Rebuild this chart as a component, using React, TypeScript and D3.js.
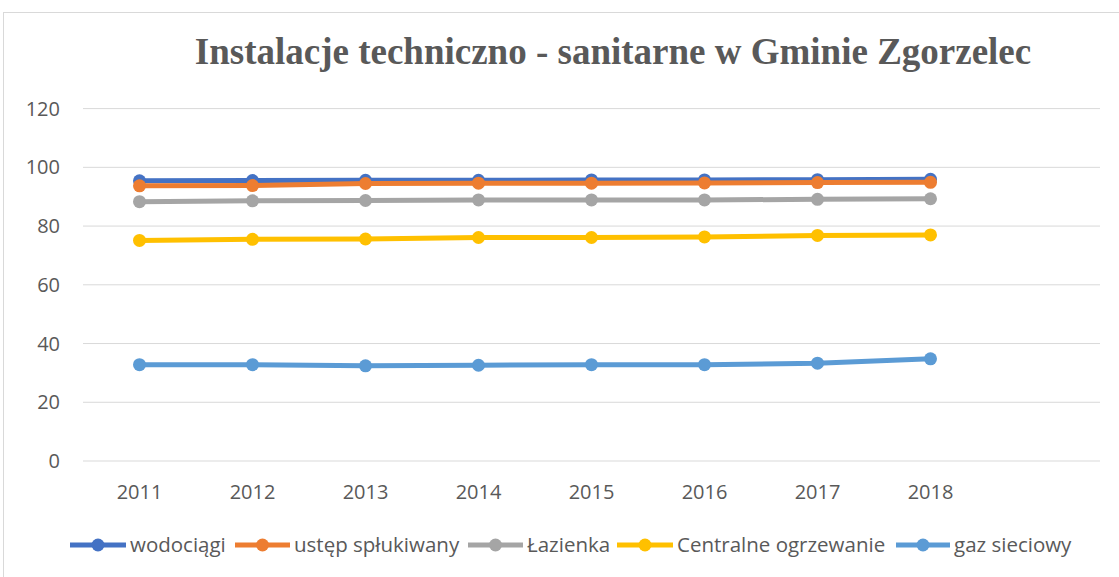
import React from "react";
import * as d3 from "d3";

const years = ["2011", "2012", "2013", "2014", "2015", "2016", "2017", "2018"];
const slots = [...years, ""];
const yTicks = [0, 20, 40, 60, 80, 100, 120];

const wodociagi = [95.4, 95.5, 95.6, 95.6, 95.7, 95.7, 95.8, 95.9];
const ustep = [93.7, 93.8, 94.5, 94.6, 94.6, 94.7, 94.8, 94.9];
const lazienka = [88.3, 88.6, 88.7, 88.9, 88.9, 88.9, 89.1, 89.3];
const centralne = [75.1, 75.5, 75.6, 76.1, 76.1, 76.3, 76.8, 77.0];
const gaz = [32.8, 32.8, 32.4, 32.6, 32.8, 32.8, 33.3, 34.8];

const seriesNames = ["wodociągi", "ustęp spłukiwany", "Łazienka", "Centralne ogrzewanie", "gaz sieciowy"];
const seriesColors = ["#4472C4", "#ED7D31", "#A5A5A5", "#FFC000", "#5B9BD5"];
const seriesData = [wodociagi, ustep, lazienka, centralne, gaz];

const W = 1119;
const H = 577;
const FONT = "'Open Sans', Roboto, sans-serif";

export default function App() {
  const x = d3.scaleBand<string>().domain(slots).range([83, 1100]);
  const y = d3.scaleLinear().domain([0, 120]).range([461, 108.6]);
  const line = d3
    .line<number>()
    .x((_, i) => (x(years[i]) as number) + x.bandwidth() / 2)
    .y((d) => y(d));

  const legendLineX = [70, 235, 468, 617, 896];
  const legendTextX = [130, 294, 527, 677, 954];
  const legendY = 545;

  return (
    <svg
      width={W}
      height={H}
      style={{ position: "absolute", left: 0, top: 0, background: "#fff" }}
    >
      <rect x={0} y={0} width={W} height={H} fill="#fff" />
      <rect x={3.5} y={12.5} width={W + 20} height={H + 20} fill="none" stroke="#D9D9D9" strokeWidth={1} />
      <text
        x={613}
        y={64}
        textAnchor="middle"
        fontFamily="'Liberation Serif', 'Times New Roman', serif"
        fontWeight="bold"
        fontSize={37}
        fill="#595959"
      >
        Instalacje techniczno - sanitarne w Gminie Zgorzelec
      </text>
      {yTicks.map((t) => (
        <g key={t}>
          <line x1={83} x2={1100} y1={y(t)} y2={y(t)} stroke="#D9D9D9" strokeWidth={1} />
          <text
            x={60}
            y={y(t)}
            dy="0.35em"
            textAnchor="end"
            fontFamily={FONT}
            fontSize={20}
            fill="#595959"
          >
            {t}
          </text>
        </g>
      ))}
      {years.map((yr) => (
        <text
          key={yr}
          x={(x(yr) as number) + x.bandwidth() / 2}
          y={492}
          dy="0.35em"
          textAnchor="middle"
          fontFamily={FONT}
          fontSize={20}
          fill="#595959"
        >
          {yr}
        </text>
      ))}
      {seriesData.map((data, si) => (
        <g key={si}>
          <path d={line(data) || ""} fill="none" stroke={seriesColors[si]} strokeWidth={5} strokeLinejoin="round" />
          {data.map((v, i) => (
            <circle
              key={i}
              cx={(x(years[i]) as number) + x.bandwidth() / 2}
              cy={y(v)}
              r={6.5}
              fill={seriesColors[si]}
            />
          ))}
        </g>
      ))}
      {seriesNames.map((name, i) => (
        <g key={name}>
          <line
            x1={legendLineX[i]}
            x2={legendTextX[i] - 4}
            y1={legendY}
            y2={legendY}
            stroke={seriesColors[i]}
            strokeWidth={5}
          />
          <circle cx={(legendLineX[i] + legendTextX[i] - 4) / 2} cy={legendY} r={6.5} fill={seriesColors[i]} />
          <text
            x={legendTextX[i]}
            y={legendY}
            dy="0.35em"
            fontFamily={FONT}
            fontSize={20.5}
            fill="#595959"
          >
            {name}
          </text>
        </g>
      ))}
    </svg>
  );
}
